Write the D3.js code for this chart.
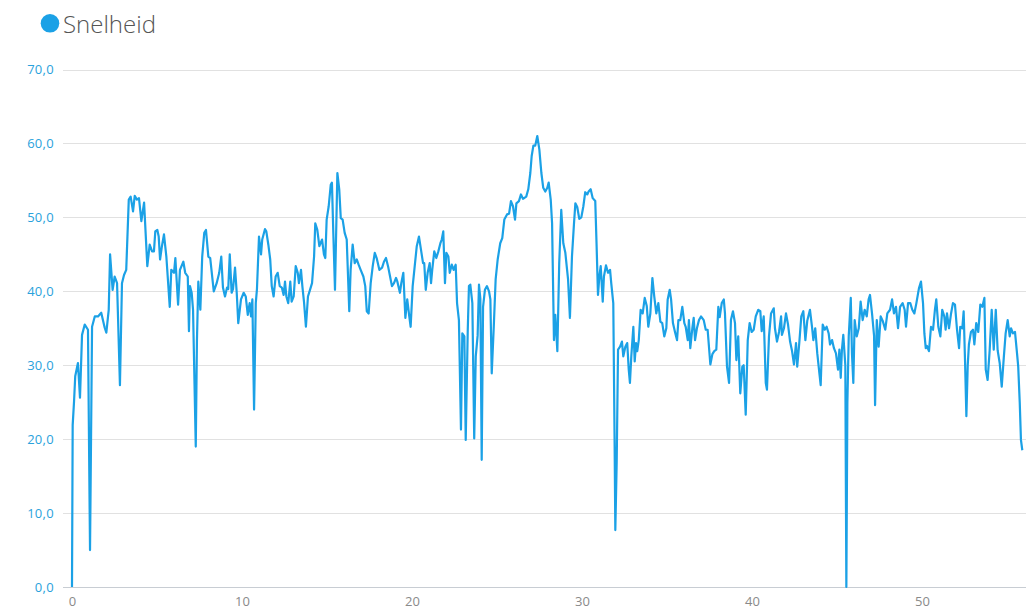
<!DOCTYPE html>
<html>
<head>
<meta charset="utf-8">
<script src="https://cdn.jsdelivr.net/npm/d3@7"></script>
<style>
  html, body { margin: 0; padding: 0; background: #fff; }
  svg { display: block; }
</style>
</head>
<body>
<svg id="chart" width="1026" height="616"></svg>
<script>
const seriesName = "Snelheid";
const yTicks = [0, 10, 20, 30, 40, 50, 60, 70];
const xTicks = [0, 10, 20, 30, 40, 50];
const distance = [
0.00,0.04,0.12,0.19,0.35,0.47,0.59,0.75,0.94,1.06,1.18,1.34,1.53,1.72,1.92,2.02,2.16,2.24,2.39,2.51,2.65,2.82,2.94,3.06,3.19,3.34,3.45,3.59,3.69,3.82,3.94,4.08,4.24,4.43,4.57,4.71,4.82,4.90,5.02,5.10,5.18,5.29,5.41,5.55,5.75,5.84,6.00,6.08,6.24,6.35,6.55,6.66,6.81,6.88,6.94,7.04,7.12,7.28,7.35,7.43,7.55,7.66,7.78,7.88,8.02,8.13,8.34,8.51,8.66,8.78,8.88,9.00,9.12,9.19,9.28,9.39,9.47,9.59,9.69,9.78,9.94,10.10,10.22,10.34,10.45,10.53,10.61,10.71,10.81,10.88,11.00,11.12,11.19,11.35,11.43,11.55,11.66,11.75,11.86,11.98,12.10,12.22,12.34,12.45,12.53,12.61,12.72,12.84,12.92,13.04,13.16,13.28,13.35,13.47,13.55,13.65,13.76,13.88,14.00,14.12,14.24,14.31,14.43,14.55,14.71,14.82,14.90,14.98,15.10,15.22,15.29,15.37,15.47,15.61,15.72,15.81,15.92,16.04,16.16,16.31,16.39,16.51,16.63,16.75,16.86,16.98,17.14,17.25,17.34,17.45,17.57,17.69,17.81,17.92,18.08,18.24,18.35,18.47,18.59,18.71,18.82,18.94,19.06,19.14,19.29,19.37,19.49,19.61,19.72,19.84,19.92,20.04,20.16,20.28,20.41,20.53,20.65,20.72,20.81,20.92,21.04,21.12,21.19,21.31,21.43,21.55,21.67,21.75,21.84,21.94,22.02,22.14,22.22,22.34,22.45,22.57,22.65,22.76,22.88,22.96,23.08,23.16,23.28,23.35,23.43,23.55,23.66,23.75,23.86,23.94,24.02,24.10,24.18,24.29,24.41,24.53,24.61,24.69,24.81,24.92,25.04,25.19,25.31,25.43,25.59,25.71,25.82,25.94,26.06,26.14,26.29,26.41,26.53,26.72,26.84,26.96,27.04,27.14,27.25,27.37,27.49,27.61,27.72,27.84,27.96,28.04,28.16,28.24,28.35,28.43,28.55,28.66,28.78,28.90,29.02,29.18,29.29,29.41,29.53,29.61,29.72,29.84,29.96,30.08,30.19,30.31,30.39,30.51,30.63,30.78,30.86,30.94,31.02,31.10,31.22,31.29,31.41,31.53,31.65,31.72,31.84,31.92,31.96,32.04,32.12,32.24,32.35,32.43,32.55,32.66,32.75,32.82,32.90,33.02,33.10,33.18,33.25,33.34,33.45,33.57,33.69,33.81,33.90,34.02,34.14,34.25,34.37,34.49,34.61,34.72,34.84,34.96,35.04,35.16,35.24,35.35,35.47,35.59,35.67,35.78,35.90,36.02,36.10,36.22,36.29,36.37,36.49,36.57,36.65,36.76,36.88,37.00,37.16,37.28,37.39,37.55,37.67,37.78,37.90,38.02,38.10,38.22,38.34,38.41,38.53,38.65,38.76,38.88,39.00,39.08,39.19,39.31,39.43,39.51,39.63,39.75,39.86,39.98,40.10,40.22,40.37,40.49,40.57,40.69,40.81,40.88,41.00,41.12,41.28,41.35,41.47,41.59,41.71,41.76,41.88,42.00,42.12,42.24,42.35,42.47,42.59,42.66,42.78,42.90,43.02,43.14,43.25,43.41,43.53,43.61,43.72,43.84,43.96,44.04,44.16,44.28,44.39,44.51,44.59,44.71,44.82,44.94,45.06,45.14,45.22,45.29,45.37,45.49,45.55,45.61,45.69,45.81,45.88,45.96,46.04,46.16,46.28,46.39,46.51,46.63,46.75,46.86,46.94,47.06,47.18,47.24,47.34,47.45,47.57,47.69,47.84,47.96,48.12,48.24,48.35,48.47,48.59,48.71,48.86,48.98,49.06,49.18,49.31,49.43,49.55,49.67,49.82,49.94,50.06,50.14,50.22,50.29,50.41,50.53,50.65,50.76,50.84,50.96,51.08,51.19,51.31,51.39,51.47,51.59,51.71,51.82,51.94,52.06,52.18,52.25,52.37,52.45,52.53,52.61,52.69,52.76,52.88,53.00,53.08,53.19,53.31,53.43,53.55,53.67,53.75,53.86,53.98,54.10,54.22,54.34,54.45,54.57,54.69,54.81,54.92,55.04,55.16,55.24,55.35,55.47,55.59,55.66,55.75,55.82,55.90
];
const speed = [
0,21.9,25.1,28.5,30.3,25.6,34.1,35.5,34.8,5.0,35.2,36.6,36.6,37.1,35.1,34.4,37.5,45.0,40.2,42.0,41.1,27.3,41.1,42.2,42.9,52.4,52.8,50.8,52.9,52.4,52.6,49.5,52.0,43.4,46.3,45.4,45.4,48.1,48.3,47.4,44.3,46.1,47.7,44.7,37.9,42.9,42.5,44.5,38.2,42.9,44.0,42.5,42.0,34.6,40.7,39.8,37.5,19.0,33.4,41.3,37.5,44.7,47.9,48.3,44.7,44.5,40.0,41.1,42.5,44.7,40.5,39.3,40.5,40.3,45.0,39.8,40.3,43.2,39.8,35.7,38.9,39.8,39.3,36.8,38.4,36.6,38.9,24.0,38.4,40.3,47.4,45.0,47.0,48.4,48.1,46.3,44.3,40.7,39.3,42.0,42.5,40.7,40.5,39.5,41.3,39.3,38.4,41.3,38.6,39.3,43.4,42.5,41.1,42.9,40.7,38.5,35.2,39.3,40.2,41.1,44.7,49.2,48.3,46.1,47.0,45.0,44.5,49.7,51.5,54.4,54.7,48.0,40.2,56.0,53.8,49.9,49.7,47.9,47.0,37.3,42.9,46.3,43.8,44.3,43.6,42.9,42.0,40.7,37.3,37.0,41.1,43.4,45.2,44.5,42.9,43.2,44.0,44.5,43.4,42.0,40.7,41.1,41.8,41.3,39.8,41.1,42.5,36.4,38.9,36.6,35.2,40.7,43.4,46.1,47.4,45.6,43.8,43.8,40.2,42.5,43.8,41.1,42.9,45.4,44.5,45.4,46.5,47.0,48.1,41.1,45.2,44.7,42.5,43.6,42.9,43.6,38.4,36.1,21.3,34.3,33.9,19.9,34.8,40.7,40.9,38.4,20.1,31.2,34.0,40.9,39.0,17.2,37.9,40.2,40.7,40.0,38.9,28.9,35.2,41.6,44.3,46.5,47.2,49.7,50.4,50.5,52.2,51.5,49.7,51.9,52.2,53.1,52.5,52.8,53.8,56.0,58.3,59.7,59.7,61.0,59.2,56.0,54.0,53.5,54.0,54.7,52.4,49.2,33.4,36.8,31.9,43.8,51.0,46.5,45.2,41.6,36.4,44.7,49.2,51.9,51.4,49.8,50.0,51.5,53.4,53.1,53.5,53.8,52.6,52.2,46.1,39.5,42.0,43.4,38.6,42.0,43.5,42.5,42.9,41.1,38.4,19.0,7.7,16.8,32.1,32.5,33.2,31.2,32.5,33.0,29.4,27.6,31.2,35.2,30.5,33.0,31.9,33.4,37.5,37.0,39.1,38.0,35.2,37.0,41.8,39.3,37.0,38.4,35.9,35.7,33.9,35.0,38.9,40.2,38.9,35.7,34.5,33.4,36.1,36.1,37.9,35.7,35.2,33.4,36.1,32.3,35.0,36.4,33.4,35.0,36.1,36.6,36.1,34.8,34.8,30.1,31.5,31.9,32.1,37.9,36.5,38.4,38.9,37.0,29.8,27.6,36.1,37.3,35.7,30.7,33.9,26.2,29.8,30.0,23.3,33.4,35.7,34.5,34.8,36.6,37.5,37.3,34.6,36.6,27.6,26.7,33.9,37.0,37.7,35.0,33.2,34.5,36.6,34.1,35.0,37.0,35.5,33.2,32.0,30.1,33.0,29.8,33.0,36.6,37.3,33.4,36.0,37.5,35.2,33.4,35.0,31.6,29.0,27.3,35.5,34.8,35.2,34.3,32.8,33.4,32.3,31.6,29.4,32.1,28.3,32.1,34.1,30.0,0,24.9,33.9,39.1,31.6,27.6,36.1,33.9,35.0,38.6,36.1,37.5,36.6,38.9,39.5,37.0,34.0,24.6,36.1,32.5,36.6,36.0,34.8,37.0,37.5,38.9,37.0,37.9,35.0,37.9,38.4,37.5,35.2,38.4,38.4,37.5,37.0,38.4,40.4,41.3,38.4,34.3,32.3,32.6,31.9,35.2,34.8,37.5,38.9,35.2,33.9,37.5,36.6,34.8,37.0,35.0,37.0,38.4,38.2,34.8,32.3,35.2,35.0,37.3,30.7,23.1,30.0,32.8,34.5,34.8,32.8,35.7,34.5,38.2,37.9,39.1,29.4,28.0,32.0,37.5,32.1,37.5,32.0,30.3,27.1,31.0,34.3,36.1,33.9,35.0,34.3,34.5,31.6,29.8,24.9,19.9,18.5
];

const lineColor = "#1ba1e6";
const W = 1026, H = 616;
const svg = d3.select("#chart");

const x = d3.scaleLinear().domain([0, 56]).range([72, 1024]);
const y = d3.scaleLinear().domain([0, 70]).range([587, 69.5]);

const fmt = v => d3.format(".1f")(v).replace(".", ",");

// grid lines
const grid = svg.append("g");
grid.selectAll("line").data(yTicks).join("line")
  .attr("x1", 63).attr("x2", W)
  .attr("y1", d => Math.round(y(d)) + 0.5).attr("y2", d => Math.round(y(d)) + 0.5)
  .attr("stroke", d => d === 0 ? "#c8cdd3" : "#e1e1e1")
  .attr("stroke-width", 1);

// y axis labels
const yAxis = d3.axisLeft(y).tickValues(yTicks).tickFormat(fmt).tickSize(0).tickPadding(0);
const yg = svg.append("g").attr("transform", "translate(54,0)").call(yAxis);
yg.select(".domain").remove();
yg.selectAll("text")
  .attr("fill", "#2aa2dc")
  .style("font-family", "'Open Sans', 'DejaVu Sans', sans-serif")
  .style("font-size", "13px")
  .style("letter-spacing", "0.3px");

// x axis labels
const xAxis = d3.axisBottom(x).tickValues(xTicks).tickFormat(d3.format("d")).tickSize(0).tickPadding(0);
const xg = svg.append("g").attr("transform", "translate(0,597)").call(xAxis);
xg.select(".domain").remove();
xg.selectAll("text")
  .attr("fill", "#8a8a8a")
  .style("font-family", "'Open Sans', 'DejaVu Sans', sans-serif")
  .style("font-size", "13px");

// line
const pts = distance.map((d, i) => [d, speed[i]]);
const line = d3.line().x(d => x(d[0])).y(d => y(d[1]));
svg.append("path")
  .datum(pts)
  .attr("d", line)
  .attr("fill", "none")
  .attr("stroke", lineColor)
  .attr("stroke-width", 2.2)
  .attr("stroke-linejoin", "round");

// legend
const lg = svg.append("g");
lg.append("circle").attr("cx", 50).attr("cy", 23.3).attr("r", 9.3).attr("fill", lineColor);
lg.append("text").attr("x", 63).attr("y", 32.5)
  .text(seriesName)
  .attr("fill", "#555")
  .style("font-family", "'Open Sans', 'Lato', sans-serif")
  .style("font-weight", "300")
  .style("font-size", "24px");
</script>
</body>
</html>
